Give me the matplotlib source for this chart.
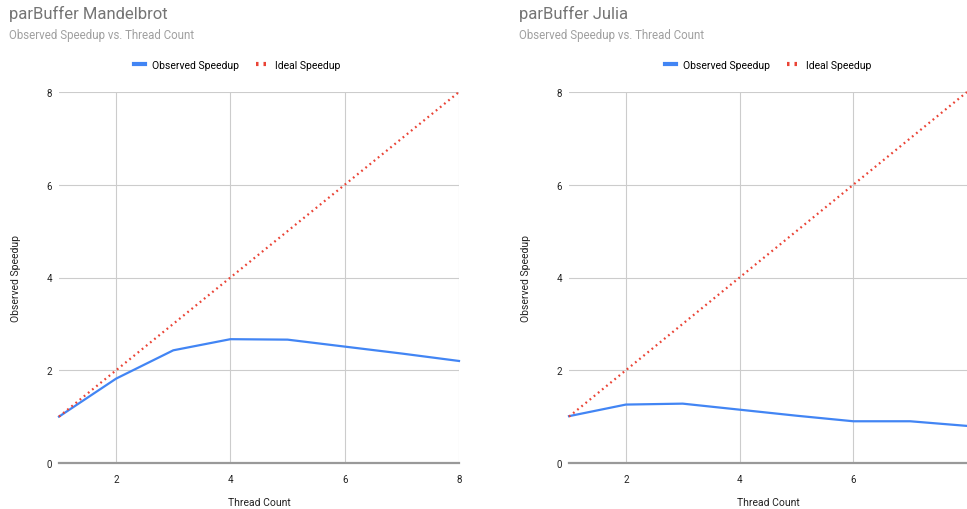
import matplotlib.pyplot as plt
import matplotlib.lines as mlines

plt.rcParams['font.family'] = ['Roboto', 'DejaVu Sans']

# data
threads = [1, 2, 3, 4, 5, 6, 7, 8]
ideal = [1, 2, 3, 4, 5, 6, 7, 8]
mandelObs = [1.0, 1.82, 2.43, 2.67, 2.66, 2.51, 2.36, 2.20]
juliaObs = [1.01, 1.26, 1.28, 1.15, 1.02, 0.90, 0.90, 0.80]

titles = ["parBuffer Mandelbrot", "parBuffer Julia"]
subtitle = "Observed Speedup vs. Thread Count"

blue = "#4285F4"
red = "#EA4335"
W, H = 967, 510

fig = plt.figure(figsize=(W/100, H/100), dpi=100)

# axes boxes in pixels (left, top, right, bottom)
boxes = [(59, 93, 459, 464), (569, 93, 967, 464)]
titleX = [9, 519]
series = [mandelObs, juliaObs]

for i in range(2):
    l, t, r, b = boxes[i]
    ax = fig.add_axes([l/W, 1 - b/H, (r-l)/W, (b-t)/H])
    ax.plot(threads, series[i], color=blue, lw=1.6, zorder=3, clip_on=False)
    ax.plot(threads, ideal, color=red, lw=1.6, ls=(0, (0.8, 1.6)), zorder=3, clip_on=False)
    ax.set_xlim(1, 8)
    ax.set_ylim(0, 8)
    ax.set_yticks([0, 2, 4, 6, 8])
    if i == 0:
        ax.set_xticks([2, 4, 6, 8])
    else:
        ax.set_xticks([2, 4, 6])
    ax.grid(True, color="#cccccc", lw=0.8)
    for s in ["top", "right", "left"]:
        ax.spines[s].set_visible(False)
    ax.spines["bottom"].set_color("#999999")
    ax.spines["bottom"].set_linewidth(1.6)
    ax.spines["bottom"].set_zorder(4)
    ax.tick_params(length=0, labelsize=7, colors="#222222")
    ax.tick_params(axis="x", pad=8)
    ax.tick_params(axis="y", pad=5)
    ax.set_xlabel("Thread Count", fontsize=7.5, color="#222222", labelpad=9)
    ax.set_ylabel("Observed Speedup", fontsize=7.5, color="#222222", labelpad=18)
    # legend
    h1 = mlines.Line2D([], [], color=blue, lw=3)
    h2 = mlines.Line2D([], [], color=red, lw=3, ls=(0, (0.6, 1.2)))
    ax.legend([h1, h2], ["Observed Speedup", "Ideal Speedup"], loc="lower center",
              bbox_to_anchor=(0.445 if i == 0 else 0.5, 1.035), ncol=2, frameon=False,
              fontsize=7.5, handlelength=1.1, columnspacing=1.6, handletextpad=0.7)
    fig.text(titleX[i]/W, 1 - 14/H, titles[i], fontsize=12, color="#757575", va="center")
    fig.text(titleX[i]/W, 1 - 36/H, subtitle, fontsize=8.3, color="#a0a0a0", va="center")

plt.savefig("out.png", dpi=100)
